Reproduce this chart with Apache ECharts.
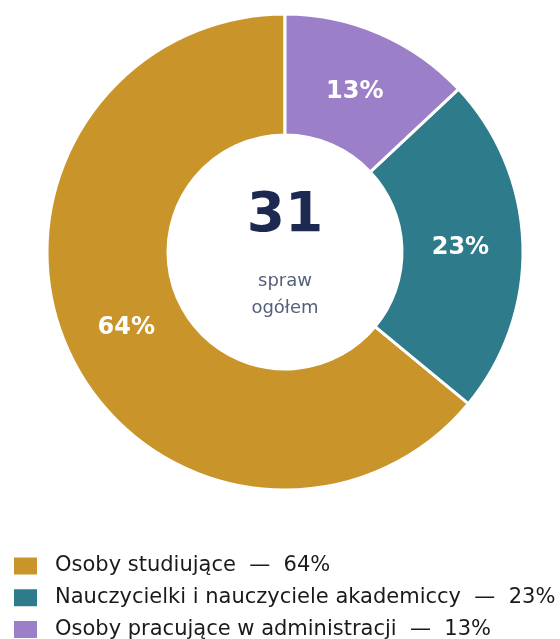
<!DOCTYPE html>
<html><head><meta charset="utf-8">
<script src="https://cdn.jsdelivr.net/npm/echarts@6/dist/echarts.min.js"></script>
<style>html,body{margin:0;padding:0;background:#fff}#c{width:560px;height:639px}</style>
</head><body><div id="c"></div>
<script>
const categories = ['Osoby studiujące', 'Nauczycielki i nauczyciele akademiccy', 'Osoby pracujące w administracji'];
const percents = [64, 23, 13];
const colors = ['#C9942A', '#2E7B8C', '#9B7FC8'];
const totalLabel = '31';
const subLabel = 'spraw\nogółem';

const chart = echarts.init(document.getElementById('c'));
const F = 'DejaVu Sans';
const pieData = categories.map((c, i) => ({ name: c, value: percents[i], itemStyle: { color: colors[i] } }));
chart.setOption({
  animation: false,
  legend: {
    orient: 'vertical', left: 12, top: 555, height: 300, padding: 0,
    itemWidth: 25, itemHeight: 19, itemGap: 9.7,
    icon: 'rect',
    textStyle: { fontFamily: F, fontSize: 21, lineHeight: 22, color: '#1a1a1a', padding: [0,0,0,12] },
    formatter: name => name + '  —  ' + percents[categories.indexOf(name)] + '%'
  },
  graphic: [
    { type: 'text', x: 285, y: 217, style: { text: totalLabel, font: 'bold 55px "DejaVu Sans"', fill: '#1D2951', textAlign: 'center', textVerticalAlign: 'middle' } },
    { type: 'text', x: 285, y: 295, style: { text: subLabel, font: '18px "DejaVu Sans"', fill: '#56607A', textAlign: 'center', textVerticalAlign: 'middle', lineHeight: 27 } }
  ],
  series: [{
    type: 'pie',
    center: [285, 252],
    radius: [117, 238],
    startAngle: 90,
    clockwise: false,
    itemStyle: { borderColor: '#fff', borderWidth: 3 },
    label: { show: false },
    labelLine: { show: false },
    emphasis: { disabled: true },
    data: pieData
  }, {
    type: 'pie',
    center: [285, 253],
    radius: [107, 238],
    startAngle: 90,
    clockwise: false,
    silent: true,
    itemStyle: { color: 'transparent', borderWidth: 0 },
    label: { position: 'inside', formatter: p => percents[p.dataIndex] + '%', color: '#fff', fontFamily: F, fontWeight: 'bold', fontSize: 24 },
    labelLine: { show: false },
    emphasis: { disabled: true },
    data: categories.map((c, i) => ({ name: c + ' ', value: percents[i] }))
  }]
});
</script></body></html>
